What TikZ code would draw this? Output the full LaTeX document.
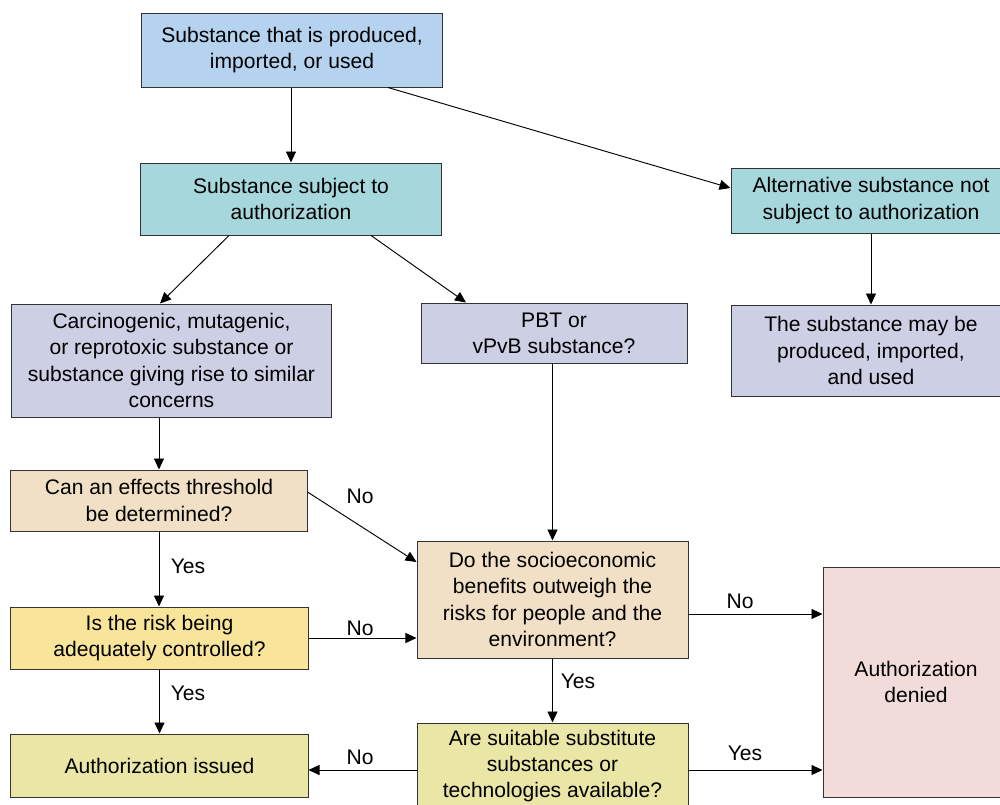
\documentclass[tikz,border=0pt]{standalone}
\usepackage{fontspec}
\setmainfont{Liberation Sans}
\usetikzlibrary{arrows.meta,calc}
\definecolor{cblue}{HTML}{B5D3EF}
\definecolor{cteal}{HTML}{A6D7DD}
\definecolor{clav}{HTML}{CDCFE5}
\definecolor{cbeige}{HTML}{F2E0C6}
\definecolor{cyel}{HTML}{F9E599}
\definecolor{colive}{HTML}{E9E6A6}
\definecolor{cpink}{HTML}{F2DCD9}
\definecolor{cborder}{HTML}{333333}
\begin{document}
\begin{tikzpicture}[x=0.03cm,y=-0.03cm,
  every node/.style={font=\fontsize{18}{22.3}\selectfont},
  box/.style={draw=cborder,line width=0.85pt,align=center,inner sep=0pt},
  arr/.style={line width=0.8pt,-{Triangle[length=0.33cm,width=0.3cm]}},
  lbl/.style={inner sep=0pt}]
\useasboundingbox (0,0) rectangle (1000,804);
\clip (0,0) rectangle (1000,804);
\fill[white] (0,0) rectangle (1000,804);
\node[box,fill=cblue,minimum width=9cm,minimum height=2.22cm] (top) at (292,50) {Substance that is produced,\\imported, or used};
\node[box,fill=cteal,minimum width=9cm,minimum height=2.16cm] (subj) at (291,199) {Substance subject to\\authorization};
\node[box,fill=cteal,minimum width=8.4cm,minimum height=1.95cm] (alt) at (871,200.5) {Alternative substance not\\subject to authorization};
\node[box,fill=clav,minimum width=8.4cm,minimum height=2.73cm] (may) at (871,350.5) {The substance may be\\produced, imported,\\and used};
\node[box,fill=clav,minimum width=9.57cm,minimum height=3.39cm] (carc) at (171.5,360.5) {Carcinogenic, mutagenic,\\or reprotoxic substance or\\substance giving rise to similar\\concerns};
\node[box,fill=clav,minimum width=7.98cm,minimum height=1.8cm] (pbt) at (554,333) {PBT or\\vPvB substance?};
\node[box,fill=cbeige,minimum width=8.88cm,minimum height=1.83cm] (can) at (159,500.5) {Can an effects threshold\\be determined?};
\node[box,fill=cyel,minimum width=8.91cm,minimum height=1.86cm] (risk) at (159.5,638) {Is the risk being\\adequately controlled?};
\node[box,fill=colive,minimum width=8.91cm,minimum height=1.89cm] (issued) at (159.5,765.5) {Authorization issued};
\node[box,fill=cbeige,minimum width=8.13cm,minimum height=3.51cm] (socio) at (552.5,599.5) {Do the socioeconomic\\benefits outweigh the\\risks for people and the\\environment?};
\node[box,fill=colive,minimum width=8.13cm,minimum height=2.58cm] (suit) at (552.5,766) {Are suitable substitute\\substances or\\technologies available?};
\node[box,fill=cpink,minimum width=5.58cm,minimum height=6.9cm] (denied) at (916,682) {Authorization\\denied};

\draw[arr] (top.south -| subj.north) -- (subj.north);
\draw[arr] ($(top.south)+(96,0)$) -- ($(alt.west)+(0,-12.5)$);
\draw[arr] ($(subj.south)+(-62,0)$) -- ($(carc.north)+(-11.5,0)$);
\draw[arr] ($(subj.south)+(80,0)$) -- ($(pbt.north)+(-88,0)$);
\draw[arr] (alt.south) -- (alt.south |- may.north);
\draw[arr] (carc.south -| can.north) -- (can.north);
\draw[arr] (pbt.south -| socio.north) -- (socio.north);
\draw[arr] ($(can.east)+(0,-8.5)$) -- ($(socio.west)+(0,-37.5)$);
\draw[arr] (can.south) -- (can.south |- risk.north);
\draw[arr] (risk.east) -- (risk.east -| socio.west);
\draw[arr] (risk.south) -- (risk.south |- issued.north);
\coordinate (sd) at ($(socio.east)+(0,14.5)$);
\draw[arr] (sd) -- (sd -| denied.west);
\draw[arr] (socio.south) -- (socio.south |- suit.north);
\coordinate (si) at ($(suit.west)+(0,4)$);
\draw[arr] (si) -- (si -| issued.east);
\coordinate (sn) at ($(suit.east)+(0,4)$);
\draw[arr] (sn) -- (sn -| denied.west);

\node[lbl] (l1) at (360,496) {No};
\node[lbl] (l2) at (188,566) {Yes};
\node[lbl] (l3) at (360,628) {No};
\node[lbl] (l4) at (188,693) {Yes};
\node[lbl] (l5) at (740,601) {No};
\node[lbl] (l6) at (578,681) {Yes};
\node[lbl] (l7) at (360,757) {No};
\node[lbl] (l8) at (745,753) {Yes};
\end{tikzpicture}
\end{document}
